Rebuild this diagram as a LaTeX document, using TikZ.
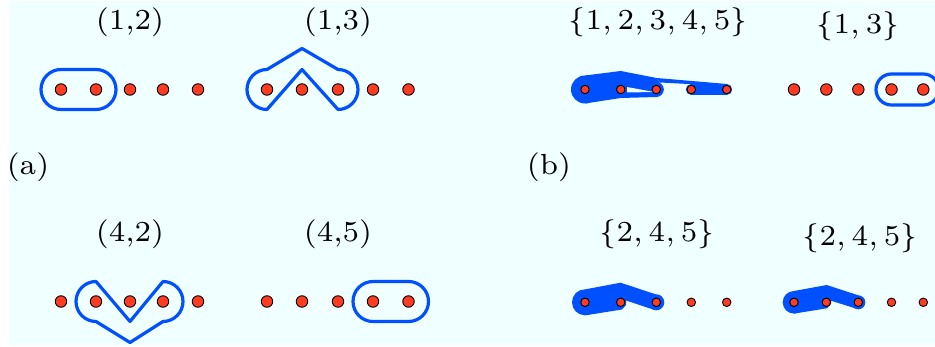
\documentclass[tikz,border=0pt]{standalone}
\usepackage{graphicx}
\definecolor{bgc}{RGB}{240,255,255}
\definecolor{bl}{RGB}{0,80,255}
\definecolor{rd}{RGB}{255,59,33}
\newcommand\biglabel[1]{\scalebox{4.15}{\fontsize{7}{8.4}\selectfont #1}}
\begin{document}
\begin{tikzpicture}[x=1pt,y=-1pt,
  dotL/.style={circle,fill=rd,draw=black,line width=0.9pt,minimum size=11.5pt,inner sep=0pt},
  dotS/.style={dotL,minimum size=8.5pt},
  loopline/.style={draw=bl,line width=3.2pt,line join=round},
  blob/.style={fill=bl},
  lab/.style={anchor=base,inner sep=0pt}]
\useasboundingbox (0,0) rectangle (935,347);
\fill[bgc] (9,1) rectangle (935,345);

% coordinates of the dots
\foreach \i/\x in {1/61,2/96,3/130,4/163,5/198}{
  \coordinate (ta\i) at (\x,89.5);
  \coordinate (ba\i) at (\x,301.5);}
\foreach \i/\x in {1/267,2/302,3/338,4/373,5/408.5}{
  \coordinate (tc\i) at (\x,89.5);
  \coordinate (bc\i) at (\x,301.5);}
\foreach \i/\x in {1/585,2/620.7,3/656.3,4/691.3,5/726.7}{
  \coordinate (tb\i) at (\x,89.5);
  \coordinate (bb\i) at (\x,302.3);}
\foreach \i/\x in {1/794,2/826.3,3/858.3,4/891.5,5/923.3}{
  \coordinate (td\i) at (\x,89.5);
  \coordinate (bd\i) at (\x,302.3);}

% (a) loops
\draw[loopline] (61,69.5) -- (96,69.5) arc[start angle=90,end angle=-90,radius=20pt]
  -- (61,109.5) arc[start angle=270,end angle=90,radius=20pt] -- cycle;
\draw[loopline] (267,109.5) -- (302,69.5) -- (338,109.5) arc[start angle=-90,end angle=90,radius=20pt]
  -- (302,48.5) -- (267,69.5) arc[start angle=90,end angle=270,radius=20pt] -- cycle;
\draw[loopline] (96,281.5) -- (130,321.5) -- (163,281.5) arc[start angle=90,end angle=-90,radius=20pt]
  -- (130,342.5) -- (96,321.5) arc[start angle=270,end angle=90,radius=20pt] -- cycle;
\draw[loopline] (373,281.5) -- (408.5,281.5) arc[start angle=90,end angle=-90,radius=20pt]
  -- (373,321.5) arc[start angle=270,end angle=90,radius=20pt] -- cycle;

% (b) shapes
\fill[blob] (585,75.5) -- (620.7,71) -- (656.7,78) -- (664,89.5) -- (656.7,97) -- (620.7,98) -- (585,103.5) -- cycle;
\fill[blob] (tb1) circle (14pt);
\fill[blob] (tb3) circle (7.5pt);
\fill[bgc] (627,87) -- (654,92) -- (627,92.5) -- cycle;
\fill[blob] (656.7,78) -- (727,84) -- (727,86) -- (660,82.5) -- cycle;
\draw[bl,line width=11pt,line cap=round] (tb4) -- (tb5);
\draw[loopline] (891.5,74) -- (923.3,74) arc[start angle=90,end angle=-90,radius=15.5pt]
  -- (891.5,105) arc[start angle=270,end angle=90,radius=15.5pt] -- cycle;

\fill[blob] (585.5,289.3) -- (620.5,282.7) -- (655.7,294.3) -- (655.7,310.3) -- (626,300.5)
  -- (626,305) -- (622,309.5) -- (585.5,315.3) -- cycle;
\fill[blob] (bb1) circle (13pt);
\fill[blob] (bb3) circle (8pt);
\fill[blob] (794,291) -- (826.7,285) -- (858.3,295.3) -- (858.3,309.3) -- (831,300.7)
  -- (831,304) -- (827,308.3) -- (794,313.6) -- cycle;
\fill[blob] (bd1) circle (11.3pt);
\fill[blob] (bd3) circle (7pt);

% dots
\foreach \i in {1,...,5}{
  \node[dotL] (nta\i) at (ta\i) {};
  \node[dotL] (nba\i) at (ba\i) {};
  \node[dotL] (ntc\i) at (tc\i) {};
  \node[dotL] (nbc\i) at (bc\i) {};
  \node[dotS] (ntb\i) at (tb\i) {};
  \node[dotS] (nbb\i) at (bb\i) {};
  \node[dotL] (ntd\i) at (td\i) {};
  \node[dotS] (nbd\i) at (bd\i) {};}

% labels
\node[lab] (l12) at (130,30) {\biglabel{(1,2)}};
\node[lab] (l13) at (338,30) {\biglabel{(1,3)}};
\node[lab] (l42) at (130,242) {\biglabel{(4,2)}};
\node[lab] (l45) at (338,242) {\biglabel{(4,5)}};
\node[lab] (lb1) at (658,29.5) {\biglabel{$\{1,2,3,4,5\}$}};
\node[lab] (lb2) at (858,33.5) {\biglabel{$\{1,3\}$}};
\node[lab] (lb3) at (657,241.5) {\biglabel{$\{2,4,5\}$}};
\node[lab] (lb4) at (860,245.5) {\biglabel{$\{2,4,5\}$}};
\node[lab] (la) at (28,175) {\biglabel{(a)}};
\node[lab] (lb) at (549,175) {\biglabel{(b)}};
\end{tikzpicture}
\end{document}
